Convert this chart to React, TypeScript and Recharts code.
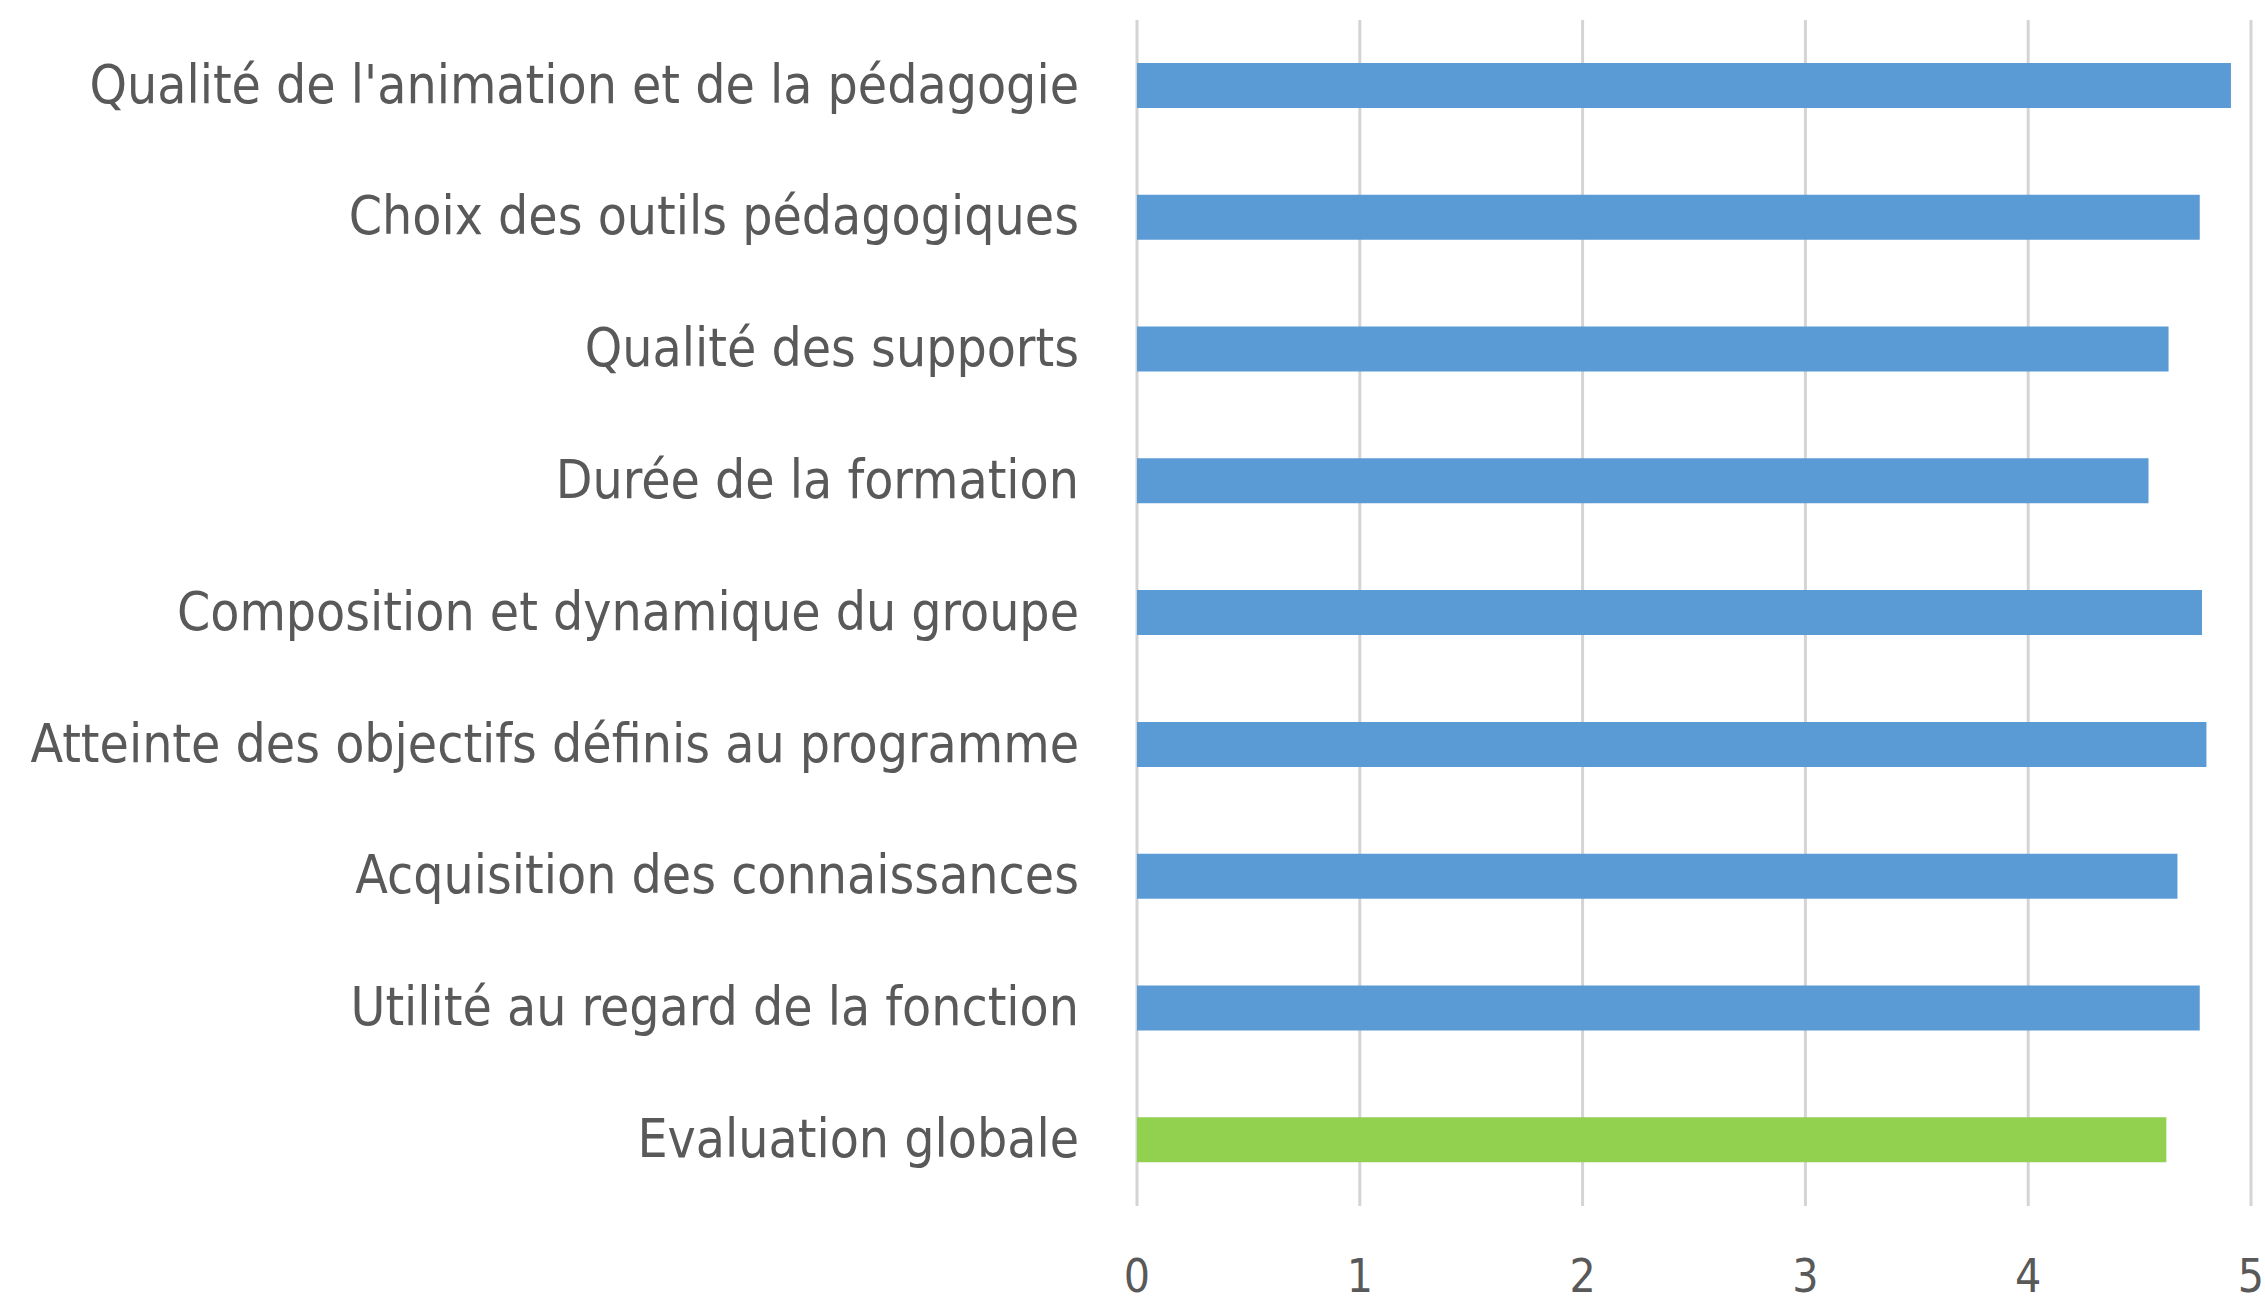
import { BarChart, Bar, XAxis, YAxis, CartesianGrid, Cell } from "recharts";

// criteria, top to bottom
const categories = [
  "Qualité de l'animation et de la pédagogie",
  "Choix des outils pédagogiques",
  "Qualité des supports",
  "Durée de la formation",
  "Composition et dynamique du groupe",
  "Atteinte des objectifs définis au programme",
  "Acquisition des connaissances",
  "Utilité au regard de la fonction",
  "Evaluation globale",
];
const scores = [4.91, 4.77, 4.63, 4.54, 4.78, 4.8, 4.67, 4.77, 4.62];
const xTicks = [0, 1, 2, 3, 4, 5];

const BLUE = "#5b9bd5";
const GREEN = "#92d050";
const FONT = "'Liberation Sans Narrow', 'DejaVu Sans Condensed', Arial, sans-serif";

export default function App() {
  const data = categories.map((name, i) => ({ name, score: scores[i] }));

  return (
    <div style={{ width: 2265, height: 1305, background: "#fff" }}>
      <style>{`body{margin:0}`}</style>
      <BarChart
        width={2265}
        height={1305}
        data={data}
        layout="vertical"
        margin={{ top: 20, right: 14, bottom: 0, left: 0 }}
        barCategoryGap={0}
      >
        <CartesianGrid horizontal={false} stroke="#d4d4d4" strokeWidth={3} />
        <XAxis
          type="number"
          domain={[0, 5]}
          ticks={xTicks}
          axisLine={false}
          tickLine={false}
          height={99}
          tickMargin={47}
          tick={{ fill: "#595959", fontSize: 46, fontFamily: FONT }}
        />
        <YAxis
          type="category"
          dataKey="name"
          width={1137}
          axisLine={false}
          tickLine={false}
          tickMargin={52}
          interval={0}
          tick={{ fill: "#595959", fontSize: 53, fontFamily: FONT, dy: -2 }}
        />
        <Bar dataKey="score" barSize={45} isAnimationActive={false}>
          {data.map((d, i) => (
            <Cell key={d.name} fill={i === data.length - 1 ? GREEN : BLUE} />
          ))}
        </Bar>
      </BarChart>
    </div>
  );
}
